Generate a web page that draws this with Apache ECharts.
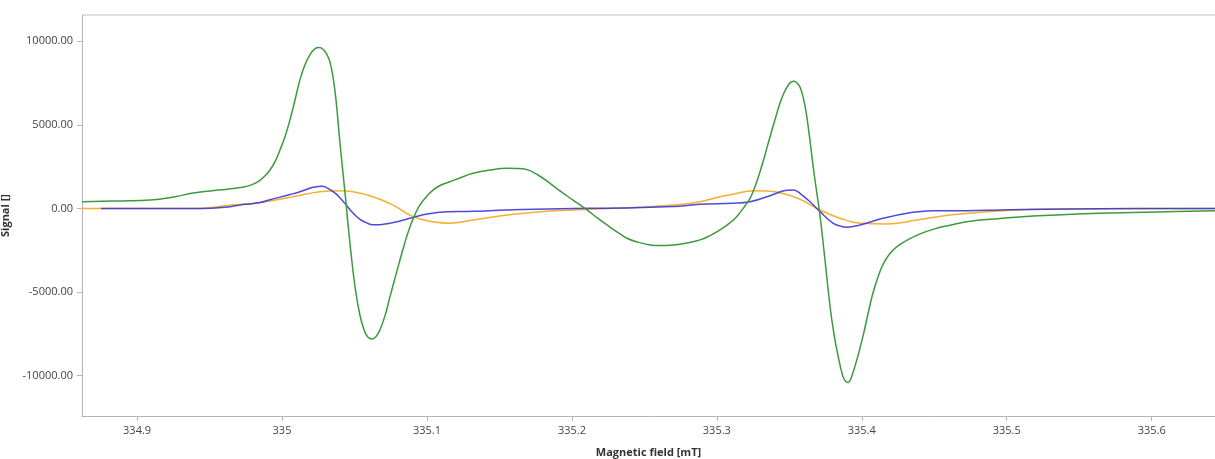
<!DOCTYPE html>
<html>
<head>
<meta charset="utf-8">
<script src="https://cdn.jsdelivr.net/npm/echarts@6/dist/echarts.min.js"></script>
<style>
  html, body { margin: 0; padding: 0; background: #ffffff; }
  #chart { width: 1215px; height: 459px; }
</style>
</head>
<body>
<div id="chart"></div>
<script>
// Magnetic field axis ticks (mT) and signal ticks
const fieldTicks = [334.9, 335.0, 335.1, 335.2, 335.3, 335.4, 335.5, 335.6];
const signalTicks = [-10000, -5000, 0, 5000, 10000];

// Green trace
const greenField = [
  334.8621, 334.8883, 334.9090, 334.9262, 334.9386, 334.9504, 334.9621, 334.9711,
  334.9780, 334.9835, 334.9883, 334.9917, 334.9952, 334.9986, 335.0021, 335.0055,
  335.0090, 335.0124, 335.0159, 335.0193, 335.0228, 335.0255, 335.0283, 335.0310,
  335.0331, 335.0352, 335.0373, 335.0400, 335.0435, 335.0469, 335.0504, 335.0538,
  335.0566, 335.0593, 335.0621, 335.0649, 335.0676, 335.0711, 335.0745, 335.0780,
  335.0814, 335.0849, 335.0883, 335.0918, 335.0952, 335.1001, 335.1042, 335.1097,
  335.1159, 335.1235, 335.1318, 335.1435, 335.1552, 335.1621, 335.1690, 335.1766,
  335.1849, 335.1925, 335.2008, 335.2104, 335.2173, 335.2242, 335.2311, 335.2380,
  335.2456, 335.2539, 335.2615, 335.2698, 335.2794, 335.2884, 335.2953, 335.3022,
  335.3077, 335.3125, 335.3160, 335.3194, 335.3229, 335.3263, 335.3298, 335.3332,
  335.3367, 335.3401, 335.3436, 335.3463, 335.3491, 335.3511, 335.3532, 335.3553,
  335.3574, 335.3594, 335.3615, 335.3636, 335.3656, 335.3677, 335.3712, 335.3746,
  335.3781, 335.3808, 335.3836, 335.3870, 335.3891, 335.3905, 335.3918, 335.3939,
  335.3974, 335.4008, 335.4043, 335.4077, 335.4112, 335.4146, 335.4181, 335.4215,
  335.4264, 335.4333, 335.4402, 335.4491, 335.4608, 335.4726, 335.4953, 335.5181,
  335.5415, 335.5643, 335.6105, 335.6437];
const greenSignal = [
  400, 450, 500, 700, 925, 1050, 1150, 1250,
  1380, 1600, 1950, 2300, 2800, 3500, 4300, 5300,
  6500, 7700, 8600, 9200, 9550, 9620, 9520, 9200,
  8750, 7850, 6450, 3900, 900, -2100, -4700, -6400,
  -7250, -7700, -7800, -7650, -7250, -6400, -5270, -4150,
  -3070, -2000, -1090, -350, 210, 750, 1100, 1400,
  1600, 1850, 2100, 2300, 2400, 2390, 2320, 2000,
  1500, 1000, 500, -90, -550, -985, -1400, -1780,
  -2020, -2180, -2220, -2180, -2060, -1880, -1620, -1280,
  -950, -600, -250, 150, 600, 1300, 2200, 3200,
  4290, 5300, 6300, 6900, 7350, 7550, 7610, 7500,
  7250, 6700, 5800, 4500, 3100, 1700, -450, -3070,
  -5860, -7500, -8800, -10040, -10350, -10400, -10300, -9820,
  -8800, -7650, -6300, -5050, -4100, -3350, -2850, -2500,
  -2150, -1800, -1520, -1250, -1000, -790, -600, -450,
  -360, -290, -190, -130];

// Blue trace
const blueField = [
  334.8752, 334.9435, 334.9642, 334.9711, 334.9780, 334.9849, 334.9917, 335.0055,
  335.0124, 335.0173, 335.0207, 335.0249, 335.0276, 335.0297, 335.0331, 335.0373,
  335.0407, 335.0435, 335.0469, 335.0504, 335.0538, 335.0580, 335.0628, 335.0676,
  335.0745, 335.0814, 335.0883, 335.1001, 335.1139, 335.1318, 335.1552, 335.2008,
  335.2242, 335.2698, 335.2884, 335.3112, 335.3229, 335.3346, 335.3456, 335.3491,
  335.3525, 335.3553, 335.3574, 335.3643, 335.3712, 335.3801, 335.3850, 335.3898,
  335.3988, 335.4146, 335.4353, 335.4491, 335.4726, 335.4953, 335.5264, 335.5643,
  335.6071, 335.6437];
const blueSignal = [
  0, 0, 100, 210, 270, 350, 520, 830,
  1000, 1150, 1250, 1310, 1320, 1290, 1130, 870,
  560, 300, -80, -400, -650, -850, -975, -970,
  -880, -750, -590, -330, -200, -170, -90, 0,
  10, 110, 250, 310, 400, 700, 1040, 1090,
  1100, 1030, 900, 400, -190, -880, -1050, -1120,
  -985, -590, -230, -130, -130, -90, -50, -20,
  0, 0];

// Orange trace
const orangeField = [
  334.8621, 334.9435, 334.9642, 334.9849, 335.0076, 335.0262, 335.0400, 335.0490,
  335.0628, 335.0766, 335.0904, 335.1042, 335.1159, 335.1318, 335.1552, 335.1780,
  335.2008, 335.2242, 335.2470, 335.2698, 335.2884, 335.3022, 335.3112, 335.3250,
  335.3346, 335.3456, 335.3574, 335.3712, 335.3850, 335.3988, 335.4174, 335.4381,
  335.4608, 335.4953, 335.5264, 335.5643, 335.6437];
const orangeSignal = [
  0, 0, 200, 350, 700, 1000, 1060, 1000,
  700, 200, -490, -790, -880, -690, -390, -190,
  -90, 0, 70, 200, 400, 700, 850, 1060,
  1040, 900, 550, -90, -590, -880, -925, -690,
  -390, -150, -50, -20, 0];

const zip = (xs, ys) => xs.map((x, i) => [x, ys[i]]);

const labelFont = { fontFamily: 'Open Sans', fontSize: 11, color: '#444444' };
const nameFont = { fontFamily: 'Open Sans', fontSize: 11, fontWeight: 'bold', color: '#333333' };

const chart = echarts.init(document.getElementById('chart'), null, { renderer: 'canvas' });
chart.setOption({
  animation: false,
  backgroundColor: '#ffffff',
  grid: { left: 82, right: 0, top: 15, bottom: 43, show: false, containLabel: false, outerBoundsMode: 'none' },
  xAxis: {
    type: 'value',
    min: 334.862,
    max: 335.6437,
    name: 'Magnetic field [mT]',
    nameLocation: 'middle',
    nameGap: 31,
    nameTextStyle: nameFont,
    axisLine: { show: true, onZero: false, lineStyle: { color: '#b4b4b4', width: 1 } },
    axisTick: { show: true, length: 5, lineStyle: { color: '#b4b4b4' }, customValues: fieldTicks },
    axisLabel: { ...labelFont, margin: 9, customValues: fieldTicks,
      formatter: v => String(Math.round(v * 10) / 10) },
    splitLine: { show: false }
  },
  yAxis: [{
    type: 'value',
    min: -12406,
    max: 11564,
    name: 'Signal []',
    nameLocation: 'middle',
    nameGap: 62,
    nameRotate: 90,
    nameTextStyle: nameFont,
    axisLine: { show: true, onZero: false, lineStyle: { color: '#b4b4b4', width: 1 } },
    axisTick: { show: true, length: 5, lineStyle: { color: '#b4b4b4' }, customValues: signalTicks },
    axisLabel: { ...labelFont, margin: 9, customValues: signalTicks,
      formatter: v => v.toFixed(2) },
    splitLine: { show: false }
  }],
  graphic: [{
    // light frame line along the top of the plot area
    type: 'line',
    shape: { x1: 82, y1: 15, x2: 1215, y2: 15 },
    style: { stroke: '#d4d4d4', lineWidth: 1.5 },
    silent: true
  }],
  series: [
    {
      type: 'line', name: 'orange', data: zip(orangeField, orangeSignal),
      showSymbol: false, smooth: 0.45, z: 2,
      lineStyle: { color: '#f4b030', width: 1.5 }
    },
    {
      type: 'line', name: 'blue', data: zip(blueField, blueSignal),
      showSymbol: false, smooth: 0.45, z: 3,
      lineStyle: { color: '#3a36d8', width: 1.5, opacity: 0.9 }
    },
    {
      type: 'line', name: 'green', data: zip(greenField, greenSignal),
      showSymbol: false, smooth: 0.45, z: 4,
      lineStyle: { color: '#3c9a3c', width: 1.5 }
    }
  ]
});
</script>
</body>
</html>
